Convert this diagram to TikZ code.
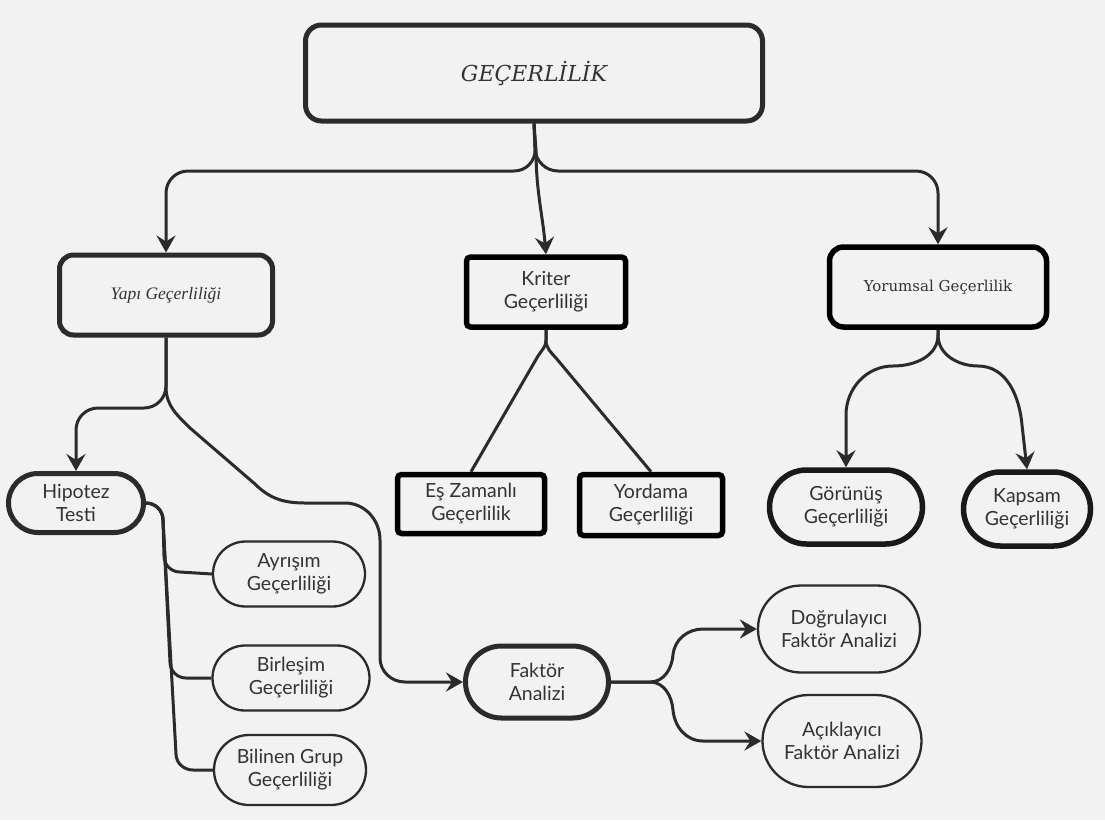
\documentclass[tikz,border=0pt]{standalone}
\usepackage{fontspec}
\setmainfont{Lato}
\newfontfamily\slab{DejaVu Serif}
\newfontfamily\lserif{Liberation Serif}
\usetikzlibrary{arrows.meta}
\definecolor{bg}{HTML}{F2F2F2}
\definecolor{ln}{HTML}{2B2B2B}
\definecolor{tx}{HTML}{333333}
\tikzset{
  base/.style={draw=ln, fill=bg, text=tx, align=center, inner sep=0pt,
    font=\fontsize{19.5}{23}\selectfont},
  thickbox/.style={base, line width=5pt},
  blackbox/.style={base, draw=black, line width=5.5pt, rounded corners=4pt},
  thinpill/.style={base, line width=2.3pt},
  conn/.style={draw=ln, line width=3pt},
  arr/.style={conn, -{Stealth[length=17pt,width=19pt,inset=6pt]}},
}
\begin{document}
\begin{tikzpicture}[x=1pt,y=-1pt]
\fill[bg] (0,0) rectangle (1105,820);
\useasboundingbox (0,0) rectangle (1105,820);

% nodes
\node[thickbox, rounded corners=16pt, minimum width=457pt, minimum height=96pt,
  font=\slab\itshape\fontsize{22}{26}\selectfont] (top) at (534,73) {GEÇERLİLİK};
\node[thickbox, rounded corners=14pt, minimum width=213pt, minimum height=80pt,
  font=\lserif\itshape\fontsize{17.5}{20}\selectfont] (yapi) at (166,295) {Yapı Geçerliliği};
\node[blackbox, minimum width=159pt, minimum height=70pt] (kriter) at (546,292) {Kriter\\Geçerliliği};
\node[blackbox, rounded corners=14pt, minimum width=217pt, minimum height=80pt,
  font=\slab\fontsize{15}{18}\selectfont] (yorum) at (938,287) {Yorumsal Geçerlilik};

\node[thickbox, rounded corners=29.5pt, minimum width=135pt, minimum height=59pt] (hipotez) at (76,503) {Hipotez\\Testi};
\node[blackbox, minimum width=147pt, minimum height=59pt] (esz) at (471,504) {Eş Zamanlı\\Geçerlilik};
\node[blackbox, minimum width=143pt, minimum height=61pt] (yordama) at (651,505) {Yordama\\Geçerliliği};
\node[thickbox, draw=black!90, line width=5.5pt, rounded corners=37pt, minimum width=153pt, minimum height=74pt] (gorunus) at (846,507) {Görünüş\\Geçerliliği};
\node[thickbox, draw=black!90, line width=5.5pt, rounded corners=37pt, minimum width=127pt, minimum height=74pt] (kapsam) at (1027,509) {Kapsam\\Geçerliliği};

\node[thinpill, rounded corners=32.5pt, minimum width=152pt, minimum height=65pt] (ayrisim) at (289,574) {Ayrışım\\Geçerliliği};
\node[thinpill, rounded corners=32.5pt, minimum width=157pt, minimum height=65pt] (birlesim) at (291,678) {Birleşim\\Geçerliliği};
\node[thinpill, rounded corners=35pt, minimum width=152pt, minimum height=70pt] (bilinen) at (290,770) {Bilinen Grup\\Geçerliliği};

\node[thickbox, rounded corners=36pt, minimum width=143pt, minimum height=72pt] (faktor) at (537,682) {Faktör\\Analizi};
\node[thinpill, rounded corners=43pt, minimum width=162pt, minimum height=87pt] (dogru) at (839,629) {Doğrulayıcı\\Faktör Analizi};
\node[thinpill, rounded corners=46pt, minimum width=159pt, minimum height=92pt] (acik) at (842,741) {Açıklayıcı\\Faktör Analizi};

% top connectors
\draw[arr, rounded corners=22pt] (top.south) -- (536,171) -- (166,171) -- (yapi.north);
\draw[arr, rounded corners=22pt] (top.south) -- (536,171) -- (938,171) -- (yorum.north);
\draw[arr] (top.south) -- (536,150) to[out=-90,in=95] (kriter.north);

% kriter
\draw[conn] (kriter.south) -- (546,340) to[out=-90,in=58] (538,356) -- (esz.north);
\draw[conn] (kriter.south) -- (546,340) to[out=-90,in=132] (556,358) -- (yordama.north);

% yorumsal
\draw[arr] (yorum.south) -- (938,335) to[out=-90,in=0] (893,366) to[out=180,in=90] (846,415) -- (gorunus.north);
\draw[arr] (yorum.south) -- (938,335) to[out=-90,in=180] (978,366) to[out=0,in=95] (1022,425) -- (kapsam.north);

% yapi
\draw[arr, rounded corners=22pt] (yapi.south) -- (166,408) -- (76,408) -- (hipotez.north);
\draw[arr] (yapi.south) -- (166,387) to[out=-90,in=135] (190,428) -- (255,484)
  to[out=-45,in=180] (305,503) -- (345,503) to[out=0,in=90] (380,540) -- (380,658)
  to[out=-90,in=180] (405,682) -- (faktor.west);

% hipotez
\draw[conn] (hipotez.east) to[out=0,in=90] (163,520) -- (164,556) to[out=-90,in=180] (180,572) -- (ayrisim.west);
\draw[conn] (hipotez.east) to[out=0,in=90] (163,520) -- (170,662) to[out=-90,in=180] (186,678) -- (birlesim.west);
\draw[conn] (hipotez.east) to[out=0,in=90] (163,520) -- (176,754) to[out=-90,in=180] (193,770) -- (bilinen.west);

% faktor
\draw[arr] (faktor.east) -- (650,682) to[out=0,in=-95] (673,655) to[out=85,in=180] (703,629) -- (dogru.west);
\draw[arr] (faktor.east) -- (650,682) to[out=0,in=95] (673,710) to[out=-85,in=180] (703,741) -- (acik.west);
\end{tikzpicture}
\end{document}
